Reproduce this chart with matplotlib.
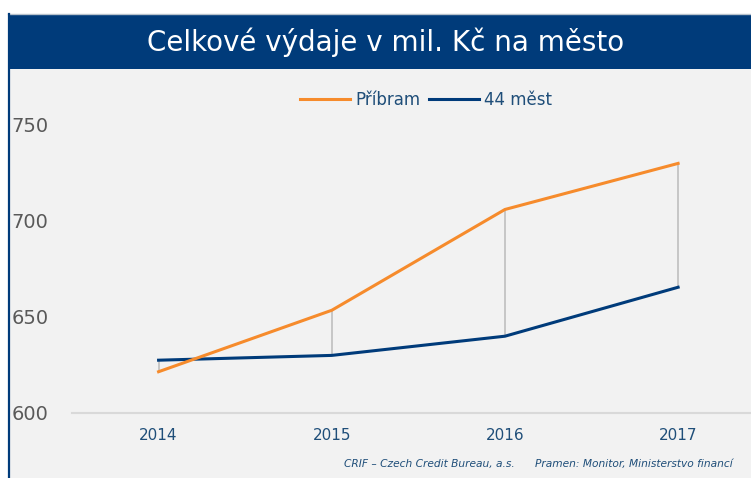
import matplotlib.pyplot as plt
from matplotlib.patches import Rectangle
from matplotlib.lines import Line2D

# Data
years = ['2014', '2015', '2016', '2017']
pribram = [621.5, 653.5, 706, 730]
mest44 = [627.5, 630, 640, 665.5]
yticks = [600, 650, 700, 750]

navy = '#003B7A'
orange = '#F68B2C'
bg = '#F2F2F2'

W, H = 751, 478
fig = plt.figure(figsize=(W / 100, H / 100), dpi=100, facecolor='white')

# Background panels
fig.patches.append(Rectangle((8 / W, 0), 1, 1 - 69 / H, transform=fig.transFigure,
                             facecolor=bg, edgecolor='none', zorder=-2))
fig.patches.append(Rectangle((8 / W, 1 - 69 / H), 1, 55 / H, transform=fig.transFigure,
                             facecolor=navy, edgecolor='none', zorder=-2))
fig.lines.append(Line2D([8 / W, 1], [1 - 14 / H, 1 - 14 / H], transform=fig.transFigure,
                        color='#B8C2CC', lw=1, zorder=-1))
fig.lines.append(Line2D([9 / W, 9 / W], [0, 1 - 14 / H], transform=fig.transFigure,
                        color=navy, lw=1.6, zorder=-1))

fig.text(386 / W, 1 - 42 / H, 'Celkové výdaje v mil. Kč na město', color='white',
         fontsize=20, ha='center', va='center')

# Axes
left, right = 72, 764.7
bottom, top = 413, 413 - 170 * 1.92
ax = fig.add_axes([left / W, 1 - bottom / H, (right - left) / W, (bottom - top) / H])
ax.set_facecolor('none')
ax.set_zorder(1)

x = list(range(len(years)))
ax.vlines(x, [min(a, b) for a, b in zip(pribram, mest44)],
          [max(a, b) for a, b in zip(pribram, mest44)], color='#BFBFBF', lw=1.2, zorder=1)
ax.plot(x, pribram, color=orange, lw=2.2, label='Příbram', zorder=3)
ax.plot(x, mest44, color=navy, lw=2.2, label='44 měst', zorder=2)

ax.set_xlim(-0.5, 3.5)
ax.set_ylim(600, 770)
ax.set_xticks(x)
ax.set_xticklabels(years)
ax.set_yticks(yticks)
ax.tick_params(axis='x', length=0, pad=11, labelsize=11, labelcolor='#1F4E79')
ax.tick_params(axis='y', length=0, pad=17, labelsize=14, labelcolor='#595959')
for s in ['top', 'right', 'left']:
    ax.spines[s].set_visible(False)
ax.spines['bottom'].set_color('#D9D9D9')
ax.spines['bottom'].set_linewidth(1.5)

fig.legend(loc='center', bbox_to_anchor=(426 / W, 1 - 100 / H), ncol=2, frameon=False,
           fontsize=12, labelcolor='#1F4E79', handlelength=3.0, handletextpad=0.3,
           columnspacing=0.5)

# Footer
fig.text(515 / W, 1 - 464 / H, 'CRIF – Czech Credit Bureau, a.s.', ha='right', va='center',
         fontsize=7.7, style='italic', color='#1F4E79')
fig.text(733 / W, 1 - 464 / H, 'Pramen: Monitor, Ministerstvo financí', ha='right', va='center',
         fontsize=7.7, style='italic', color='#1F4E79')

fig.savefig('out.png', dpi=100, facecolor='white')
